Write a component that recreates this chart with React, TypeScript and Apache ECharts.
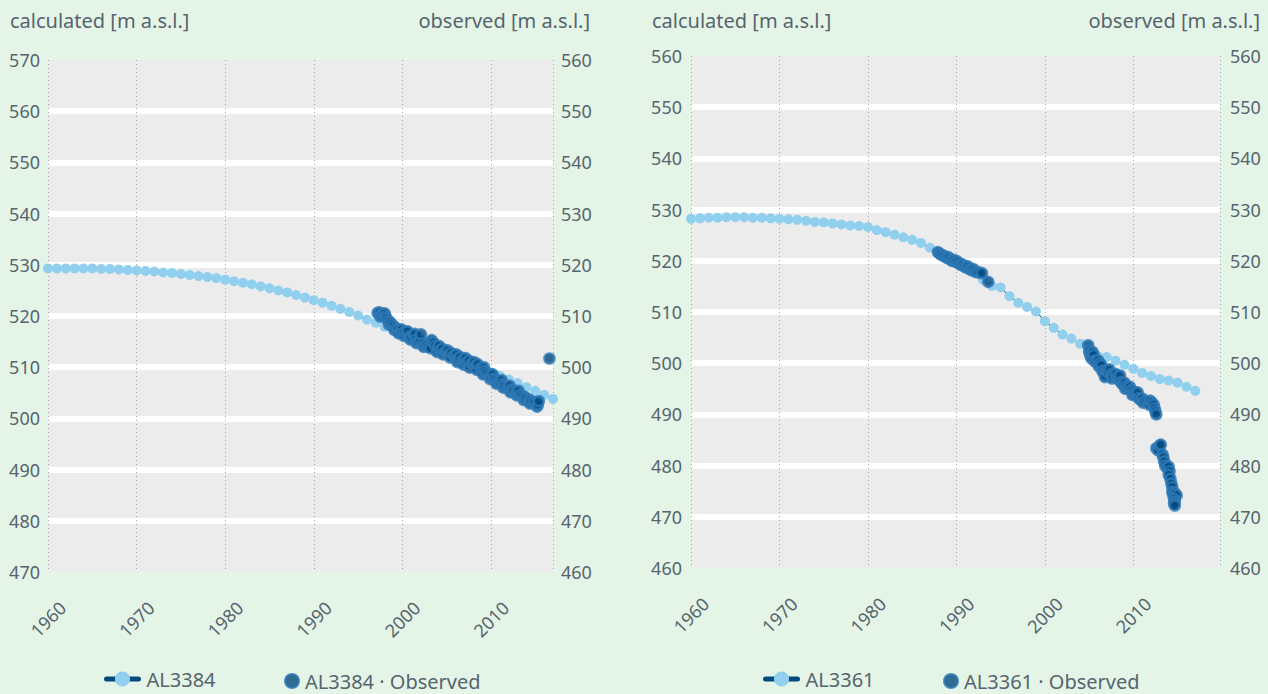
import React, { useEffect, useRef } from 'react';
import * as echarts from 'echarts';

// ---- data ----
const calcYears = [
  1960, 1961, 1962, 1963, 1964, 1965, 1966, 1967, 1968, 1969,
  1970, 1971, 1972, 1973, 1974, 1975, 1976, 1977, 1978, 1979,
  1980, 1981, 1982, 1983, 1984, 1985, 1986, 1987, 1988, 1989,
  1990, 1991, 1992, 1993, 1994, 1995, 1996, 1997, 1998, 1999,
  2000, 2001, 2002, 2003, 2004, 2005, 2006, 2007, 2008, 2009,
  2010, 2011, 2012, 2013, 2014, 2015, 2016, 2017,
];

// AL3384 calculated [m a.s.l.]
const calcAL3384 = [
  529.3, 529.3, 529.3, 529.3, 529.3, 529.3, 529.2, 529.2, 529.1, 529.0,
  528.9, 528.8, 528.7, 528.5, 528.4, 528.2, 528.0, 527.8, 527.6, 527.4,
  527.1, 526.8, 526.5, 526.2, 525.8, 525.4, 525.0, 524.6, 524.1, 523.6,
  523.1, 522.6, 522.0, 521.4, 520.8, 520.1, 519.3, 518.7, 517.9, 517.1,
  516.4, 515.6, 514.8, 514.0, 513.3, 512.5, 511.8, 511.1, 510.4, 509.7,
  509.0, 508.3, 507.6, 506.9, 506.1, 505.4, 504.6, 503.8,
];

// AL3361 calculated [m a.s.l.]
const calcAL3361 = [
  528.2, 528.3, 528.4, 528.4, 528.5, 528.5, 528.5, 528.4, 528.4, 528.3,
  528.2, 528.1, 528.0, 527.8, 527.6, 527.5, 527.3, 527.1, 526.9, 526.8,
  526.6, 526.0, 525.6, 525.1, 524.6, 524.1, 523.5, 522.6, 521.6, 520.6,
  519.5, 518.5, 517.6, 516.3, 515.1, 514.8, 513.1, 511.8, 511.0, 510.1,
  508.2, 506.9, 505.6, 504.8, 503.8, 502.6, 501.4, 501.2, 500.5, 499.7,
  498.9, 498.1, 497.5, 496.9, 496.6, 496.2, 495.4, 494.6,
];

// AL3384 observed [m a.s.l.]  (year, level)
const obsAL3384: [number, number][] = [
  [1997.2, 510.6], [1997.4, 510.7], [1997.5, 509.9], [1997.6, 510.2], [1997.8, 510.4],
  [1998.0, 510.5], [1998.1, 509.9], [1998.2, 509.5], [1998.4, 509.1], [1998.5, 508.3],
  [1998.6, 508.8], [1998.8, 508.4], [1999.0, 508.0], [1999.1, 507.3], [1999.3, 507.6],
  [1999.5, 507.3], [1999.6, 506.6], [1999.8, 507.0], [1999.9, 507.4], [2000.0, 506.7],
  [2000.2, 506.1], [2000.3, 506.9], [2000.5, 506.3], [2000.6, 507.0], [2000.8, 506.0],
  [2000.9, 505.4], [2001.0, 505.8], [2001.3, 506.1], [2001.4, 506.5], [2001.5, 505.4],
  [2001.6, 504.7], [2001.8, 505.0], [2002.0, 505.2], [2002.1, 506.4], [2002.3, 504.7],
  [2002.4, 504.0], [2002.6, 504.3], [2002.8, 504.5], [2003.0, 504.0], [2003.2, 503.7],
  [2003.3, 505.3], [2003.5, 504.8], [2003.7, 504.2], [2003.9, 503.0], [2004.0, 503.7],
  [2004.1, 504.2], [2004.3, 503.4], [2004.5, 503.6], [2004.6, 502.5], [2004.8, 503.0],
  [2005.0, 502.8], [2005.1, 503.3], [2005.3, 502.5], [2005.4, 501.9], [2005.5, 502.8],
  [2005.8, 502.3], [2006.0, 502.0], [2006.1, 502.5], [2006.2, 501.0], [2006.3, 501.7],
  [2006.5, 502.0], [2006.8, 501.4], [2006.9, 500.5], [2007.0, 501.2], [2007.1, 501.8],
  [2007.3, 501.0], [2007.5, 501.3], [2007.6, 499.9], [2007.8, 500.7], [2008.0, 500.5],
  [2008.1, 501.0], [2008.3, 500.3], [2008.4, 499.5], [2008.5, 500.6], [2008.8, 499.9],
  [2009.0, 499.6], [2009.1, 498.6], [2009.2, 500.0], [2009.3, 499.3], [2009.5, 498.9],
  [2009.8, 498.6], [2009.9, 497.7], [2010.0, 498.1], [2010.2, 498.6], [2010.3, 497.8],
  [2010.5, 497.5], [2010.6, 496.8], [2010.8, 497.2], [2011.0, 497.0], [2011.2, 497.5],
  [2011.3, 496.7], [2011.4, 496.0], [2011.5, 496.4], [2011.8, 496.2], [2012.0, 495.9],
  [2012.1, 496.4], [2012.2, 495.1], [2012.3, 495.7], [2012.5, 495.5], [2012.8, 495.3],
  [2012.9, 494.5], [2013.0, 495.0], [2013.1, 495.4], [2013.3, 494.7], [2013.5, 494.4],
  [2013.7, 493.6], [2013.8, 494.2], [2014.0, 493.9], [2014.3, 493.7], [2014.4, 492.9],
  [2014.5, 493.4], [2014.8, 493.2], [2015.0, 493.0], [2015.2, 492.3], [2015.3, 492.7],
  [2015.4, 493.4], [2016.6, 501.7],
];

// AL3361 observed [m a.s.l.]  (year, level)
const obsAL3361: [number, number][] = [
  [1987.9, 521.7], [1988.1, 521.4], [1988.3, 521.2], [1988.5, 521.0], [1988.7, 520.9],
  [1988.9, 520.6], [1989.1, 520.7], [1989.3, 520.3], [1989.5, 520.0], [1989.7, 520.2],
  [1989.9, 519.8], [1990.1, 519.9], [1990.3, 519.5], [1990.5, 519.2], [1990.7, 519.3],
  [1990.9, 518.9], [1991.1, 518.7], [1991.3, 518.9], [1991.5, 518.4], [1991.7, 518.2],
  [1991.9, 518.4], [1992.1, 518.0], [1992.3, 517.8], [1992.6, 517.7], [1992.9, 517.6],
  [1993.6, 515.9],
  [2004.9, 503.5], [2005.0, 502.4], [2005.1, 501.8], [2005.2, 501.3], [2005.3, 500.9],
  [2005.4, 502.2], [2005.5, 501.6], [2005.6, 500.5], [2005.8, 500.2], [2006.0, 500.6],
  [2006.1, 499.4], [2006.2, 500.0], [2006.4, 499.6], [2006.5, 498.5], [2006.7, 498.0],
  [2006.8, 497.3], [2006.9, 498.6], [2007.1, 498.3], [2007.3, 498.8], [2007.5, 497.9],
  [2007.6, 497.0], [2007.7, 497.6], [2008.0, 497.9], [2008.2, 497.3], [2008.4, 496.8],
  [2008.5, 497.6], [2008.6, 496.3], [2008.8, 495.9], [2009.0, 496.2], [2009.1, 495.0],
  [2009.2, 495.6], [2009.4, 495.2], [2009.6, 495.4], [2009.8, 494.8], [2009.9, 493.8],
  [2010.0, 494.5], [2010.2, 494.1], [2010.4, 493.6], [2010.5, 494.3], [2010.6, 493.2],
  [2010.8, 492.9], [2011.0, 493.1], [2011.1, 492.3], [2011.3, 492.6], [2011.6, 492.4],
  [2011.8, 491.9], [2011.9, 492.7], [2012.1, 492.3], [2012.3, 491.9], [2012.4, 491.2],
  [2012.5, 490.6], [2012.6, 490.0],
  [2012.6, 483.4], [2012.8, 483.0], [2013.0, 483.9], [2013.1, 484.1], [2013.3, 482.2],
  [2013.4, 481.6], [2013.5, 480.8], [2013.6, 480.0], [2013.8, 479.6], [2014.0, 479.8],
  [2014.1, 478.9], [2014.0, 478.2], [2014.2, 477.4], [2014.3, 476.5], [2014.4, 475.8],
  [2014.4, 474.9], [2014.5, 474.3], [2014.7, 474.6], [2014.9, 474.2], [2014.6, 473.5],
  [2014.7, 473.0], [2014.6, 472.6], [2014.7, 472.2],
];

const seriesNames = ['AL3384', 'AL3384 · Observed', 'AL3361', 'AL3361 · Observed'];
const axisTitles = ['calculated [m a.s.l.]', 'observed [m a.s.l.]'];

// ---- styles ----
const FONT = '"Noto Sans", sans-serif';
const TXT = '#56646e';
const LIGHT = '#91cfee';
const NAVY = '#004a80';
const MID = '#3079b7';

function makeX(gridIndex: number, max: number) {
  return {
    type: 'value',
    gridIndex,
    min: 1960,
    max,
    interval: 10,
    axisLine: { show: false },
    axisTick: { show: false },
    axisLabel: {
      color: TXT,
      fontFamily: FONT,
      fontSize: 18,
      rotate: 45,
      align: 'center',
      verticalAlign: 'middle',
      margin: 47,
      showMaxLabel: false,
      formatter: (v: number) => String(Math.round(v)),
    },
    splitLine: { show: true, lineStyle: { color: '#a3a3a3', width: 1, type: [1, 3] } },
  };
}

function makeY(gridIndex: number, position: string, min: number, max: number, split: boolean, margin: number) {
  return {
    type: 'value',
    gridIndex,
    position,
    min,
    max,
    interval: 10,
    axisLine: { show: false },
    axisTick: { show: false },
    axisLabel: { color: TXT, fontFamily: FONT, fontSize: 18, margin },
    splitLine: split
      ? { show: true, showMinLine: false, showMaxLine: false, lineStyle: { color: '#ffffff', width: 6 } }
      : { show: false },
  };
}

function calcSeries(name: string, xi: number, yi: number, values: number[]) {
  return {
    type: 'line',
    name,
    xAxisIndex: xi,
    yAxisIndex: yi,
    data: calcYears.map((y, i) => [y, values[i]]),
    symbol: 'circle',
    symbolSize: 10,
    showAllSymbol: true,
    itemStyle: { color: LIGHT },
    lineStyle: { color: NAVY, width: 1 },
    z: 2,
  };
}

function obsSeries(name: string, xi: number, yi: number, data: [number, number][]) {
  return {
    type: 'scatter',
    name,
    xAxisIndex: xi,
    yAxisIndex: yi,
    data,
    symbol: 'circle',
    symbolSize: 10,
    itemStyle: { color: NAVY, borderColor: MID, borderWidth: 2.5 },
    z: 3,
  };
}

const legendText = { color: TXT, fontFamily: FONT, fontSize: 20 };

function lineLegend(name: string, left: number) {
  return {
    data: [name],
    left,
    top: 669,
    padding: 0,
    itemWidth: 32,
    itemHeight: 19,
    selectedMode: false,
    lineStyle: { width: 5, cap: 'round' },
    textStyle: { ...legendText, padding: [0, 0, 0, 3] },
  };
}

function dotLegend(name: string, left: number) {
  return {
    data: [name],
    left,
    top: 671,
    padding: 0,
    itemWidth: 14,
    itemHeight: 15,
    symbolKeepAspect: false,
    selectedMode: false,
    textStyle: { ...legendText, padding: [0, 0, 0, 1] },
  };
}

function title(text: string, x: number, align: string) {
  return {
    type: 'text',
    x,
    y: 20,
    style: { text, fill: TXT, fontFamily: FONT, fontSize: 20, align, verticalAlign: 'middle' },
  };
}

export default function App() {
  const ref = useRef<HTMLDivElement>(null);
  useEffect(() => {
    if (!ref.current) return;
    const chart = echarts.init(ref.current, undefined, { renderer: 'svg' });
    chart.setOption({
      animation: false,
      backgroundColor: '#e4f5e7',
      textStyle: { fontFamily: FONT },
      grid: [
        { left: 48, top: 60, width: 505, height: 512, show: true, backgroundColor: '#ececec', borderWidth: 0 },
        { left: 691, top: 56, width: 529, height: 512, show: true, backgroundColor: '#ececec', borderWidth: 0 },
      ],
      xAxis: [makeX(0, 2017), makeX(1, 2019.8)],
      yAxis: [
        makeY(0, 'left', 470, 570, true, 8),
        makeY(0, 'right', 460, 560, false, 8),
        makeY(1, 'left', 460, 560, true, 9),
        makeY(1, 'right', 460, 560, false, 10),
      ],
      legend: [
        lineLegend(seriesNames[0], 104),
        dotLegend(seriesNames[1], 284),
        lineLegend(seriesNames[2], 763),
        dotLegend(seriesNames[3], 943),
      ],
      graphic: [
        title(axisTitles[0], 10, 'left'),
        title(axisTitles[1], 590, 'right'),
        title(axisTitles[0], 652, 'left'),
        title(axisTitles[1], 1260, 'right'),
      ],
      series: [
        calcSeries(seriesNames[0], 0, 0, calcAL3384),
        obsSeries(seriesNames[1], 0, 1, obsAL3384),
        calcSeries(seriesNames[2], 1, 2, calcAL3361),
        obsSeries(seriesNames[3], 1, 3, obsAL3361),
      ],
    });
    return () => chart.dispose();
  }, []);
  return (
    <div
      ref={ref}
      style={{ position: 'fixed', left: 0, top: 0, width: 1268, height: 694 }}
    />
  );
}
